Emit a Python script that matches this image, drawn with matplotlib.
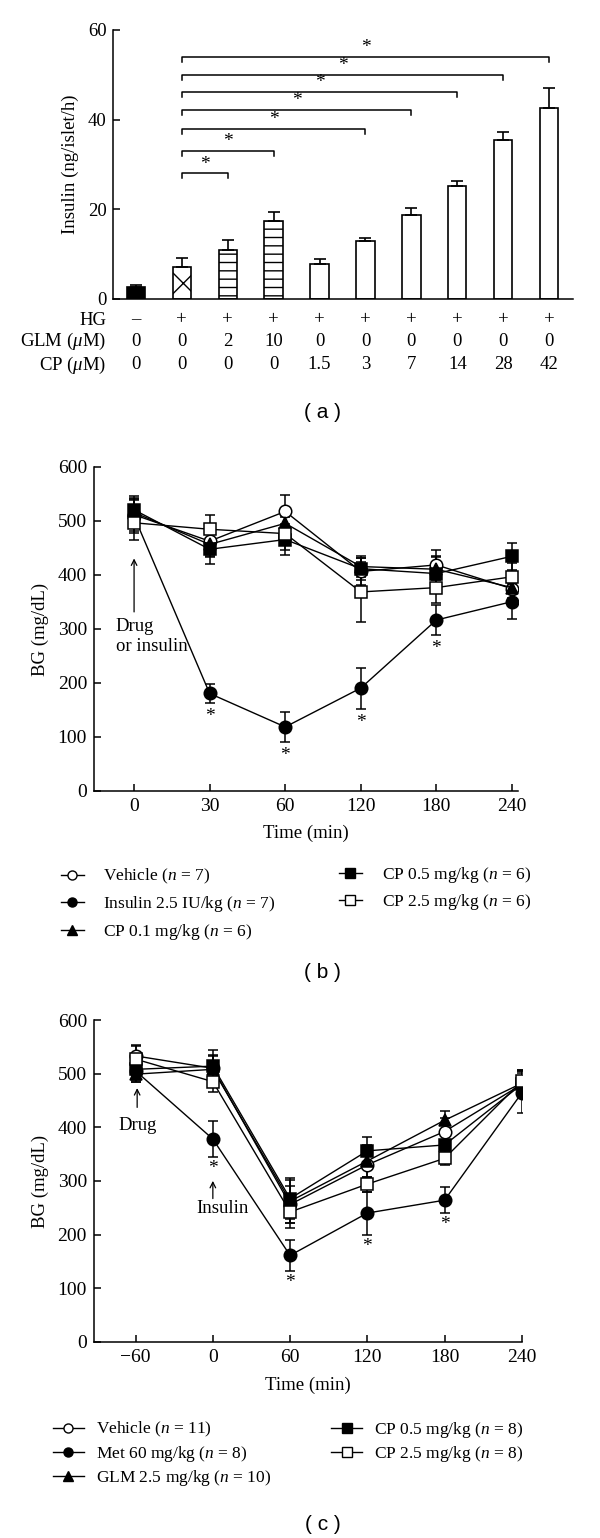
import matplotlib
matplotlib.use('Agg')
import matplotlib.pyplot as plt
import matplotlib.transforms as mtransforms
from matplotlib.lines import Line2D

plt.rcParams['font.family'] = ['Liberation Serif', 'DejaVu Serif']
plt.rcParams['mathtext.fontset'] = 'custom'
plt.rcParams['mathtext.rm'] = 'Liberation Serif'
plt.rcParams['mathtext.it'] = 'Liberation Serif:italic'
plt.rcParams['hatch.linewidth'] = 1.0
plt.rcParams['axes.linewidth'] = 1.1

# ---- panel (a): insulin secretion ----
hg_row = ['–', '+', '+', '+', '+', '+', '+', '+', '+', '+']
glm_row = ['0', '0', '2', '10', '0', '0', '0', '0', '0', '0']
cp_row = ['0', '0', '0', '0', '1.5', '3', '7', '14', '28', '42']
insulin_a = [2.6, 7.1, 10.9, 17.4, 7.7, 12.9, 18.7, 25.1, 35.4, 42.6]
insulin_err = [0.5, 2.0, 2.2, 1.9, 1.3, 0.8, 1.5, 1.2, 1.9, 4.4]
# significance brackets (from bar 1 to target bar, at height)
sig_targets = [2, 3, 5, 6, 7, 8, 9]
sig_heights = [28.0, 33.1, 37.9, 42.2, 46.2, 49.9, 53.9]

# ---- panel (b): BG after drug or insulin ----
times_b = ['0', '30', '60', '120', '180', '240']
vehicle_b = [511, 462, 517, 406, 418, 374]
insulin_b = [508, 180, 118, 190, 316, 350]
cp01_b = [515, 456, 495, 415, 410, 376]
cp05_b = [520, 447, 465, 411, 402, 434]
cp25_b = [496, 484, 476, 368, 376, 396]
vehicle_b_err = [30, 30, 30, 25, 28, 25]
insulin_b_err = [30, 18, 28, 38, 28, 33]
cp01_b_err = [25, 22, 25, 20, 25, 20]
cp05_b_err = [25, 28, 28, 20, 30, 25]
cp25_b_err = [32, 27, 30, 56, 28, 25]
stars_b = [1, 2, 3, 4]

# ---- panel (c): BG with met / GLM / CP then insulin ----
times_c = ['\u221260', '0', '60', '120', '180', '240']
vehicle_c = [533, 510, 256, 330, 392, 480]
met_c = [505, 378, 161, 240, 264, 464]
glm_c = [499, 508, 262, 337, 413, 482]
cp05_c = [508, 514, 267, 356, 367, 480]
cp25_c = [527, 485, 242, 294, 342, 486]
vehicle_c_err = [20, 25, 35, 25, 25, 25]
met_c_err = [20, 33, 29, 40, 24, 38]
glm_c_err = [15, 25, 40, 30, 18, 25]
cp05_c_err = [20, 30, 38, 25, 25, 25]
cp25_c_err = [25, 20, 30, 14, 12, 20]
stars_c = [1, 2, 3, 4]

fig = plt.figure(figsize=(6, 15.38), dpi=100)

def style_axes(ax, size):
    ax.spines['top'].set_visible(False)
    ax.spines['right'].set_visible(False)
    ax.tick_params(direction='in', length=5, width=1.1, labelsize=size, pad=5)

# ================= (a) =================
axa = fig.add_axes([0.189, 0.8056, 0.766, 0.1749])
style_axes(axa, 13.5)
xa = list(range(len(insulin_a)))
faces = ['black', 'white', 'white', 'white', 'white', 'white', 'white', 'white', 'white', 'white']
hatches = [None, 'x', '--', '--', None, None, None, None, None, None]
for i in xa:
    axa.bar(i, insulin_a[i], width=0.4, color=faces[i], edgecolor='black',
            linewidth=1.2, hatch=hatches[i], zorder=2)
axa.errorbar(xa, insulin_a, yerr=[[0] * len(xa), insulin_err], fmt='none',
             ecolor='black', elinewidth=1.2, capsize=4, capthick=1.2, zorder=3)
for t, h in zip(sig_targets, sig_heights):
    axa.plot([1, 1, t, t], [h - 1.1, h, h, h - 1.1], color='black', lw=1.1)
    axa.text((1 + t) / 2, h + 0.2, '*', ha='center', va='bottom', fontsize=14)
axa.set_xlim(-0.49, 9.52)
axa.set_ylim(0, 60)
axa.set_yticks([0, 20, 40, 60])
axa.set_xticks([])
fig.text(0.118, 0.893, 'Insulin (ng/islet/h)', rotation=90, ha='center', va='center', fontsize=13.5)

tr = mtransforms.blended_transform_factory(axa.transData, fig.transFigure)
row_y = [0.7919, 0.7778, 0.7627]
row_labels = ['HG', r'GLM ($\mu$M)', r'CP ($\mu$M)']
for y, lab, row in zip(row_y, row_labels, [hg_row, glm_row, cp_row]):
    fig.text(0.1767, y, lab, ha='right', va='center', fontsize=13.5)
    for i, v in enumerate(row):
        axa.text(i, y, v, transform=tr, ha='center', va='center', fontsize=13.5)
fig.text(0.538, 0.7321, '( a )', ha='center', va='center', fontsize=15, family='Liberation Sans')

# ================= (b) =================
axb = fig.add_axes([0.1567, 0.4859, 0.7066, 0.2107])
style_axes(axb, 14)
xb = list(range(len(times_b)))
series_b = [
    (vehicle_b, vehicle_b_err, 'o', 'white', r'Vehicle ($n$ = 7)'),
    (insulin_b, insulin_b_err, 'o', 'black', r'Insulin 2.5 IU/kg ($n$ = 7)'),
    (cp01_b, cp01_b_err, '^', 'black', r'CP 0.1 mg/kg ($n$ = 6)'),
    (cp05_b, cp05_b_err, 's', 'black', r'CP 0.5 mg/kg ($n$ = 6)'),
    (cp25_b, cp25_b_err, 's', 'white', r'CP 2.5 mg/kg ($n$ = 6)'),
]
handles_b = []
for vals, err, mk, fc, lab in series_b:
    axb.errorbar(xb, vals, yerr=err, color='black', lw=1.0, elinewidth=1.1,
                 capsize=3.5, capthick=1.1, marker=mk, markersize=9,
                 markerfacecolor=fc, markeredgecolor='black', markeredgewidth=1.1)
    handles_b.append(Line2D([], [], color='black', lw=1.0, marker=mk, markersize=6.5,
                            markerfacecolor=fc, markeredgecolor='black', label=lab))
for i in stars_b:
    axb.text(i, insulin_b[i] - insulin_b_err[i] - 25, '*', ha='center', va='center', fontsize=14)
axb.annotate('', xy=(0, 430), xytext=(0, 331),
             arrowprops=dict(arrowstyle='->', lw=0.9, color='black', shrinkA=0, shrinkB=0))
axb.text(-0.24, 285, 'Drug\nor insulin', ha='left', va='center', fontsize=13.5, linespacing=1.2)
axb.set_xlim(-0.53, 5.08)
axb.set_ylim(0, 600)
axb.set_xticks(xb)
axb.set_xticklabels(times_b)
axb.set_yticks(range(0, 601, 100))
fig.text(0.0667, 0.591, 'BG (mg/dL)', rotation=90, ha='center', va='center', fontsize=13.5)
fig.text(0.51, 0.4584, 'Time (min)', ha='center', va='center', fontsize=13.5)
fig.legend(handles=handles_b[:3], loc='upper left', bbox_to_anchor=(0.1017, 0.4362),
           frameon=False, fontsize=12.5, handlelength=1.3, handletextpad=1.1,
           labelspacing=0.45, borderpad=0, borderaxespad=0)
fig.legend(handles=handles_b[3:], loc='upper left', bbox_to_anchor=(0.565, 0.4375),
           frameon=False, fontsize=12.5, handlelength=1.3, handletextpad=1.2,
           labelspacing=0.4, borderpad=0, borderaxespad=0)
fig.text(0.538, 0.368, '( b )', ha='center', va='center', fontsize=15, family='Liberation Sans')

# ================= (c) =================
axc = fig.add_axes([0.1565, 0.1276, 0.7132, 0.2092])
style_axes(axc, 14)
xc = list(range(len(times_c)))
series_c = [
    (vehicle_c, vehicle_c_err, 'o', 'white', r'Vehicle ($n$ = 11)'),
    (met_c, met_c_err, 'o', 'black', r'Met 60 mg/kg ($n$ = 8)'),
    (glm_c, glm_c_err, '^', 'black', r'GLM 2.5 mg/kg ($n$ = 10)'),
    (cp05_c, cp05_c_err, 's', 'black', r'CP 0.5 mg/kg ($n$ = 8)'),
    (cp25_c, cp25_c_err, 's', 'white', r'CP 2.5 mg/kg ($n$ = 8)'),
]
handles_c = []
for vals, err, mk, fc, lab in series_c:
    axc.errorbar(xc, vals, yerr=err, color='black', lw=1.0, elinewidth=1.1,
                 capsize=3.5, capthick=1.1, marker=mk, markersize=9,
                 markerfacecolor=fc, markeredgecolor='black', markeredgewidth=1.1)
    handles_c.append(Line2D([], [], color='black', lw=1.0, marker=mk, markersize=6.5,
                            markerfacecolor=fc, markeredgecolor='black', label=lab))
for i in stars_c:
    axc.text(i, met_c[i] - met_c_err[i] - 22, '*', ha='center', va='center', fontsize=14)
axc.annotate('', xy=(0.02, 473), xytext=(0.02, 437),
             arrowprops=dict(arrowstyle='->', lw=0.9, color='black', shrinkA=0, shrinkB=0))
axc.text(0.02, 404, 'Drug', ha='center', va='center', fontsize=13.5)
axc.annotate('', xy=(1, 300), xytext=(1, 267),
             arrowprops=dict(arrowstyle='->', lw=0.9, color='black', shrinkA=0, shrinkB=0))
axc.text(1.12, 249, 'Insulin', ha='center', va='center', fontsize=13.5)
axc.set_xlim(-0.54, 5.0)
axc.set_ylim(0, 600)
axc.set_xticks(xc)
axc.set_xticklabels(times_c)
axc.set_yticks(range(0, 601, 100))
fig.text(0.0667, 0.232, 'BG (mg/dL)', rotation=90, ha='center', va='center', fontsize=13.5)
fig.text(0.513, 0.0995, 'Time (min)', ha='center', va='center', fontsize=13.5)
fig.legend(handles=handles_c[:3], loc='upper left', bbox_to_anchor=(0.088, 0.0767),
           frameon=False, fontsize=12.5, handlelength=1.8, handletextpad=0.7,
           labelspacing=0.25, borderpad=0, borderaxespad=0)
fig.legend(handles=handles_c[3:], loc='upper left', bbox_to_anchor=(0.5517, 0.0767),
           frameon=False, fontsize=12.5, handlelength=1.8, handletextpad=0.7,
           labelspacing=0.25, borderpad=0, borderaxespad=0)
fig.text(0.538, 0.0085, '( c )', ha='center', va='center', fontsize=15, family='Liberation Sans')

fig.savefig('out.png', dpi=100)
